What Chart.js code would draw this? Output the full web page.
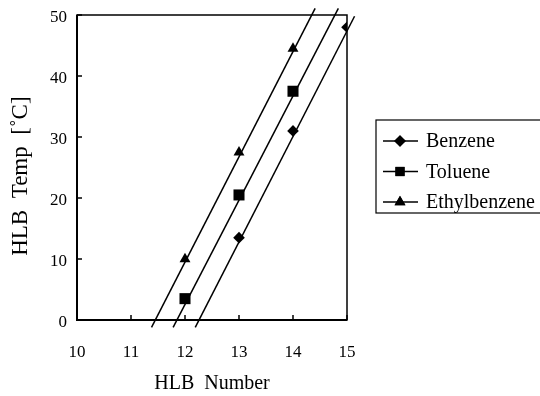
<!DOCTYPE html>
<html>
<head>
<meta charset="utf-8">
<script src="https://cdn.jsdelivr.net/npm/chart.js@4.4.1/dist/chart.umd.min.js"></script>
<style>
  html, body { margin: 0; padding: 0; background: #fff; }
  #wrap { width: 540px; height: 396px; position: relative; }
</style>
</head>
<body>
<div id="wrap"><canvas id="grafica"></canvas></div>
<script>
const SERIES_NAMES = ['Benzene', 'Toluene', 'Ethylbenzene'];
const MARKERS = ['rectRot', 'rect', 'triangle'];

const benzeneX = [13, 14, 15];
const benzeneY = [13.5, 31, 48];
const tolueneX = [12, 13, 14];
const tolueneY = [3.5, 20.5, 37.5];
const ethylX = [12, 13, 14];
const ethylY = [10, 27.5, 44.5];

// fitted lines, end points (they run past the frame)
const benzeneFitX = [12.19, 15.14];
const benzeneFitY = [-1.2, 49.8];
const tolueneFitX = [11.78, 14.84];
const tolueneFitY = [-1.2, 51.1];
const ethylFitX = [11.38, 14.41];
const ethylFitY = [-1.2, 51.1];

const X_TICKS = [10, 11, 12, 13, 14, 15];
const Y_TICKS = [0, 10, 20, 30, 40, 50];

const FUENTE = '"Liberation Serif", "DejaVu Serif", serif';

function puntos(xs, ys) {
    return xs.map((x, i) => ({ x: x, y: ys[i] }));
}

function serieMarcas(nombre, xs, ys, estilo, radio) {
    return {
        label: nombre,
        data: puntos(xs, ys),
        showLine: false,
        pointStyle: estilo,
        pointRadius: radio,
        pointHoverRadius: radio,
        backgroundColor: '#000',
        borderColor: '#000',
        borderWidth: 0
    };
}

function serieRecta(xs, ys) {
    return {
        label: '_fit',
        data: puntos(xs, ys),
        showLine: true,
        pointRadius: 0,
        borderColor: '#000',
        borderWidth: 1.5,
        clip: false
    };
}

// marco, marcas hacia dentro y leyenda propia
const marcoPlugin = {
    id: 'marco',
    afterDraw(chart) {
        const ctx = chart.ctx;
        const a = chart.chartArea;
        const sx = chart.scales.x;
        const sy = chart.scales.y;
        ctx.save();
        ctx.strokeStyle = '#000';
        ctx.lineWidth = 1.5;
        ctx.strokeRect(a.left, a.top, a.right - a.left, a.bottom - a.top);
        ctx.lineWidth = 2;
        ctx.beginPath();
        ctx.moveTo(a.left, a.top);
        ctx.lineTo(a.left, a.bottom);
        ctx.lineTo(a.right, a.bottom);
        ctx.stroke();
        ctx.lineWidth = 1.5;
        ctx.beginPath();
        X_TICKS.forEach(v => {
            const px = sx.getPixelForValue(v);
            ctx.moveTo(px, a.bottom);
            ctx.lineTo(px, a.bottom - 5);
        });
        Y_TICKS.forEach(v => {
            const py = sy.getPixelForValue(v);
            ctx.moveTo(a.left, py);
            ctx.lineTo(a.left + 5, py);
        });
        ctx.stroke();

        // leyenda
        const lx = 376, ly = 120, lh = 93;
        ctx.lineWidth = 1.2;
        ctx.strokeRect(lx, ly, 180, lh);
        ctx.font = '20px ' + FUENTE;
        ctx.fillStyle = '#000';
        ctx.textBaseline = 'middle';
        SERIES_NAMES.forEach((nombre, i) => {
            const y = ly + 21 + i * 30.5;
            ctx.lineWidth = 1.5;
            ctx.beginPath();
            ctx.moveTo(lx + 7, y);
            ctx.lineTo(lx + 42, y);
            ctx.stroke();
            const ds = chart.data.datasets[i];
            Chart.helpers.drawPoint(ctx, {
                pointStyle: MARKERS[i],
                radius: Math.min(ds.pointRadius, 6.5),
                borderWidth: 0
            }, lx + 24, y);
            ctx.fill();
            ctx.fillText(nombre, lx + 50, y + 1);
        });
        ctx.restore();
    }
};

new Chart(document.getElementById('grafica'), {
    type: 'scatter',
    data: {
        datasets: [
            serieMarcas(SERIES_NAMES[0], benzeneX, benzeneY, MARKERS[0], 5.8),
            serieMarcas(SERIES_NAMES[1], tolueneX, tolueneY, MARKERS[1], 7.8),
            serieMarcas(SERIES_NAMES[2], ethylX, ethylY, MARKERS[2], 6.3),
            serieRecta(benzeneFitX, benzeneFitY),
            serieRecta(tolueneFitX, tolueneFitY),
            serieRecta(ethylFitX, ethylFitY)
        ]
    },
    options: {
        responsive: true,
        maintainAspectRatio: false,
        animation: false,
        layout: { padding: { left: 0, top: 0, right: 193, bottom: 0 } },
        plugins: {
            legend: { display: false },
            tooltip: { enabled: false }
        },
        scales: {
            x: {
                type: 'linear',
                min: 10,
                max: 15,
                afterBuildTicks: s => { s.ticks = X_TICKS.map(v => ({ value: v })); },
                afterFit: s => { s.height = 76; },
                grid: { display: false },
                border: { display: false },
                ticks: { color: '#000', padding: 14, font: { family: FUENTE, size: 17 } },
                title: {
                    display: true,
                    text: 'HLB  Number',
                    color: '#000',
                    padding: { top: 9, bottom: 0 },
                    font: { family: FUENTE, size: 20 }
                }
            },
            y: {
                type: 'linear',
                min: 0,
                max: 50,
                afterBuildTicks: s => { s.ticks = Y_TICKS.map(v => ({ value: v })); },
                afterFit: s => { s.width = 77; s.paddingTop = 15; },
                grid: { display: false },
                border: { display: false },
                ticks: { color: '#000', padding: 2, labelOffset: 3, font: { family: FUENTE, size: 17 } },
                title: {
                    display: true,
                    text: 'HLB  Temp  [˚C]   ',
                    color: '#000',
                    padding: { top: 7, bottom: 16 },
                    font: { family: FUENTE, size: 23 }
                }
            }
        }
    },
    plugins: [marcoPlugin]
});
</script>
</body>
</html>
